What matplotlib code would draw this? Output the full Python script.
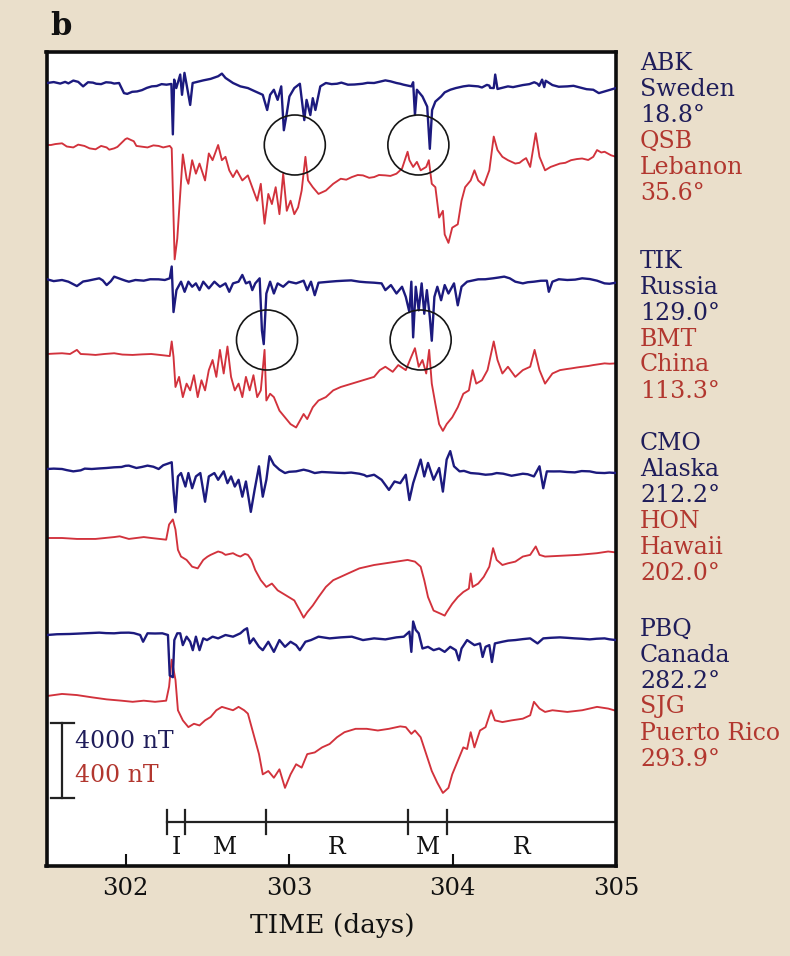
import matplotlib
matplotlib.use("Agg")
import matplotlib.pyplot as plt
from matplotlib.patches import Ellipse

plt.rcParams['font.family'] = ['DejaVu Serif']

# ---------------- data ----------------
# (time in days, field deviation in nT)
ABK = [(301.50, 0), (301.52, 0), (301.68, 130), (301.74, -180), (301.77, 40), (301.82, -40), (301.88, 40),
       (301.96, 0), (301.99, -540), (302.07, -450), (302.16, -180), (302.25, -90), (302.28, -50),
       (302.289, -2740), (302.297, 180), (302.31, -270), (302.334, 450), (302.345, -630), (302.36, 540),
       (302.375, -180), (302.395, -1170), (302.41, 0), (302.475, 140), (302.52, 220), (302.566, 360),
       (302.589, 500), (302.611, 270), (302.657, 0), (302.702, -180), (302.748, -270), (302.793, -450),
       (302.839, -630), (302.866, -1440), (302.884, -630), (302.907, -360), (302.93, -900), (302.952, -180),
       (302.968, -2520), (302.986, -1620), (303.002, -720), (303.032, -270), (303.066, -40), (303.093, -1980),
       (303.107, -900), (303.13, -1710), (303.145, -810), (303.161, -1440), (303.191, -180), (303.225, 0),
       (303.293, -40), (303.36, -90), (303.45, -40), (303.52, 0), (303.589, 140), (303.657, 0), (303.70, -90),
       (303.748, -180), (303.759, 40), (303.770, -1710), (303.782, -360), (303.816, -720), (303.845, -1260),
       (303.861, -3510), (303.875, -1440), (303.895, -990), (303.93, -720), (303.952, -500), (303.986, -360),
       (304.02, -270), (304.066, -180), (304.157, -180), (304.225, -140), (304.252, -270), (304.261, 450),
       (304.275, -320), (304.339, -180), (304.43, -110), (304.52, -40), (304.548, 180), (304.561, -220),
       (304.611, -110), (304.702, -180), (304.793, -270), (304.861, -360), (304.895, -540), (304.93, -450),
       (305.0, -270),
       (301.56, 50), (301.60, -30), (301.63, 60), (301.65, -20), (301.71, 60), (301.80, 20), (301.85, -60),
       (301.91, 20), (301.93, -30), (302.01, -580), (302.04, -470), (302.10, -380), (302.13, -260),
       (302.19, -160), (302.22, -60), (303.26, -60), (303.32, 20), (303.40, -80), (303.48, 10), (303.55, 60),
       (303.62, 90), (303.68, -40), (304.10, -140), (304.18, -240), (304.21, -100), (304.23, -260),
       (304.37, -220), (304.47, -60), (304.50, 40), (304.53, -150), (304.57, 120), (304.65, -200),
       (304.74, -150), (304.82, -330)]

QSB = [(301.50, 0), (301.543, 0), (301.611, 9), (301.68, -13), (301.748, -5), (301.816, -23), (301.884, -13),
       (301.93, -18), (301.998, 31), (302.032, 27), (302.066, -5), (302.134, -13), (302.202, -5), (302.27, -5),
       (302.282, -18), (302.30, -610), (302.316, -500), (302.35, -50), (302.373, -180), (302.384, -207),
       (302.407, -81), (302.43, -153), (302.452, -99), (302.486, -189), (302.509, -45), (302.532, -81),
       (302.566, 0), (302.589, -81), (302.611, -63), (302.634, -135), (302.657, -171), (302.68, -135),
       (302.714, -189), (302.748, -162), (302.782, -243), (302.805, -297), (302.827, -207), (302.85, -420),
       (302.873, -261), (302.895, -315), (302.918, -225), (302.941, -369), (302.964, -153), (302.986, -351),
       (303.009, -297), (303.032, -369), (303.055, -333), (303.077, -243), (303.10, -63), (303.116, -189),
       (303.145, -225), (303.18, -261), (303.225, -243), (303.27, -207), (303.316, -180), (303.384, -171),
       (303.452, -162), (303.52, -171), (303.589, -162), (303.657, -153), (303.691, -126), (303.725, -36),
       (303.736, -81), (303.759, -117), (303.782, -90), (303.805, -135), (303.839, -117), (303.855, -81),
       (303.873, -207), (303.895, -225), (303.918, -387), (303.941, -351), (303.952, -477), (303.975, -522),
       (303.998, -441), (304.032, -423), (304.055, -297), (304.077, -225), (304.111, -189), (304.134, -135),
       (304.157, -189), (304.191, -216), (304.225, -135), (304.252, 45), (304.275, -27), (304.305, -63),
       (304.339, -81), (304.384, -99), (304.43, -81), (304.475, -117), (304.509, 63), (304.532, -63),
       (304.566, -135), (304.60, -117), (304.657, -99), (304.725, -81), (304.793, -72), (304.861, -63),
       (304.884, -27), (304.93, -36), (305.0, -63),
       (301.57, 5), (301.64, -8), (301.71, 2), (301.78, -18), (301.85, -5), (301.90, -25), (301.95, -10),
       (302.01, 36), (302.05, 20), (302.10, -9), (302.17, -2), (302.23, -13), (303.35, -185), (303.42, -160),
       (303.49, -175), (303.55, -160), (303.62, -165), (304.41, -95), (304.45, -70), (304.69, -95),
       (304.76, -75), (304.83, -80), (304.91, -40), (304.97, -55)]

TIK = [(301.50, 0), (301.52, 36), (301.611, 0), (301.702, -324), (301.77, -36), (301.839, 90), (301.884, -270),
       (301.93, 180), (301.975, 36), (302.02, -90), (302.111, -36), (302.202, 36), (302.27, 90), (302.282, 720),
       (302.293, -1710), (302.311, -540), (302.339, -90), (302.361, -630), (302.384, -90), (302.407, -360),
       (302.43, -180), (302.452, -540), (302.475, -90), (302.509, -450), (302.543, -90), (302.577, -360),
       (302.611, -180), (302.634, -630), (302.657, -180), (302.691, -90), (302.714, 270), (302.736, -180),
       (302.759, -90), (302.775, -540), (302.793, -180), (302.82, 90), (302.834, -2700), (302.845, -3420),
       (302.861, -720), (302.884, -90), (302.907, -720), (302.93, -180), (302.964, -360), (302.998, -90),
       (303.043, -180), (303.089, -36), (303.111, -540), (303.134, -90), (303.157, -810), (303.18, -144),
       (303.248, -90), (303.339, -36), (303.43, -90), (303.52, -144), (303.566, -180), (303.589, -540),
       (303.623, -270), (303.657, -720), (303.691, -360), (303.714, -900), (303.736, -1710), (303.748, -90),
       (303.759, -3060), (303.775, -360), (303.793, -1620), (303.811, -180), (303.827, -1800), (303.843, -540),
       (303.861, -1980), (303.873, -3240), (303.889, -900), (303.907, -360), (303.93, -1080), (303.952, -270),
       (303.975, -720), (304.009, -180), (304.032, -1350), (304.055, -360), (304.089, -90), (304.157, 36),
       (304.248, 90), (304.316, 180), (304.384, -90), (304.43, -180), (304.498, -90), (304.577, -36),
       (304.589, -630), (304.611, -90), (304.702, 0), (304.793, 90), (304.884, -36), (304.93, -180),
       (305.0, -144),
       (301.56, -60), (301.65, -90), (301.74, -80), (301.80, 20), (301.86, -20), (301.91, -60), (302.00, -40),
       (302.06, 0), (302.15, 40), (302.24, 0), (303.29, -60), (303.38, -20), (303.47, -120), (304.20, 40),
       (304.28, 130), (304.35, 90), (304.46, -120), (304.54, -40), (304.65, 40), (304.75, 20), (304.84, 50),
       (304.96, -200)]

BMT = [(301.50, 0), (301.52, 0), (301.611, 4), (301.702, 22), (301.725, 0), (301.816, -5), (301.93, 4),
       (302.043, -5), (302.157, 0), (302.27, -11), (302.282, 67), (302.293, -14), (302.305, -176),
       (302.327, -122), (302.35, -230), (302.373, -158), (302.395, -194), (302.418, -113), (302.441, -230),
       (302.464, -140), (302.486, -194), (302.509, -86), (302.532, -32), (302.555, -122), (302.577, 22),
       (302.6, -104), (302.623, 40), (302.645, -122), (302.668, -194), (302.691, -158), (302.714, -230),
       (302.736, -122), (302.759, -194), (302.782, -113), (302.805, -230), (302.827, -194), (302.85, 22),
       (302.861, -248), (302.884, -212), (302.907, -230), (302.941, -302), (302.975, -338), (303.009, -374),
       (303.043, -392), (303.066, -356), (303.089, -320), (303.111, -347), (303.145, -284), (303.18, -248),
       (303.225, -230), (303.27, -194), (303.316, -176), (303.384, -158), (303.452, -140), (303.52, -122),
       (303.555, -86), (303.589, -68), (303.634, -95), (303.668, -59), (303.714, -86), (303.748, -14),
       (303.77, 31), (303.793, -68), (303.816, -32), (303.839, -104), (303.857, 22), (303.873, -158),
       (303.895, -266), (303.918, -374), (303.941, -410), (303.964, -374), (303.998, -338), (304.032, -284),
       (304.066, -212), (304.1, -194), (304.123, -86), (304.145, -158), (304.18, -140), (304.214, -86),
       (304.252, 67), (304.275, -32), (304.305, -104), (304.339, -68), (304.384, -122), (304.43, -86),
       (304.475, -68), (304.502, 22), (304.532, -86), (304.566, -158), (304.611, -104), (304.657, -86),
       (304.725, -77), (304.793, -68), (304.861, -59), (304.93, -50), (305.0, -50),
       (301.56, 2), (301.66, 0), (301.77, -2), (301.87, 0), (301.98, -3), (302.10, -2), (302.21, -5),
       (304.70, -80), (304.76, -72), (304.83, -64), (304.90, -54), (304.96, -52)]

CMO = [(301.50, 0), (301.52, 0), (301.611, 0), (301.68, -126), (301.725, -72), (301.793, 0), (301.884, 54),
       (301.975, 108), (302.02, 180), (302.066, 54), (302.134, 180), (302.202, 0), (302.259, 288),
       (302.282, 360), (302.293, -1116), (302.305, -2304), (302.32, -396), (302.339, -216), (302.366, -936),
       (302.384, -216), (302.407, -1026), (302.43, -396), (302.457, -216), (302.486, -1746), (302.509, -396),
       (302.543, -216), (302.566, -576), (302.6, -126), (302.623, -756), (302.645, -396), (302.668, -936),
       (302.691, -576), (302.714, -1476), (302.736, -666), (302.766, -2286), (302.789, -1116), (302.816, 144),
       (302.839, -1476), (302.861, -576), (302.88, 684), (302.907, 234), (302.941, -36), (302.975, -216),
       (303.043, -126), (303.089, -36), (303.157, -216), (303.248, -180), (303.339, -216), (303.43, -252),
       (303.475, -396), (303.52, -306), (303.566, -576), (303.611, -1116), (303.645, -666), (303.68, -756),
       (303.714, -306), (303.736, -1656), (303.759, -756), (303.782, -126), (303.805, 504), (303.827, -396),
       (303.85, 324), (303.884, -576), (303.918, 54), (303.941, -1206), (303.964, 504), (303.986, 954),
       (304.009, 144), (304.043, -126), (304.111, -216), (304.202, -306), (304.27, -216), (304.361, -360),
       (304.43, -252), (304.498, -396), (304.532, 144), (304.555, -1026), (304.577, -126), (304.657, -126),
       (304.748, -180), (304.839, -126), (304.93, -216), (305.0, -216),
       (301.56, 20), (301.64, -60), (301.75, 20), (301.84, 30), (301.93, 90), (302.00, 170), (302.10, 110),
       (302.17, 120), (302.23, 200), (303.00, -150), (303.12, -100), (303.20, -160), (303.29, -200),
       (303.38, -190), (303.46, -320), (304.07, -100), (304.16, -250), (304.24, -280), (304.31, -250),
       (304.40, -300), (304.46, -280), (304.62, -130), (304.70, -160), (304.79, -110), (304.88, -200),
       (304.96, -190)]

HON = [(301.50, 0), (301.52, 0), (301.611, 0), (301.702, -5), (301.816, -5), (301.93, 5), (301.964, 9),
       (302.02, -5), (302.111, 5), (302.157, 0), (302.248, -9), (302.266, 72), (302.289, 99), (302.305, 45),
       (302.32, -63), (302.339, -99), (302.373, -117), (302.407, -153), (302.441, -162), (302.475, -117),
       (302.52, -90), (302.566, -72), (302.611, -90), (302.657, -81), (302.702, -99), (302.748, -90),
       (302.77, -117), (302.793, -171), (302.827, -225), (302.861, -261), (302.895, -243), (302.93, -279),
       (302.964, -297), (302.998, -315), (303.032, -333), (303.066, -387), (303.089, -425), (303.111, -396),
       (303.145, -360), (303.18, -315), (303.225, -261), (303.27, -225), (303.316, -207), (303.361, -189),
       (303.43, -162), (303.475, -153), (303.52, -144), (303.589, -135), (303.657, -126), (303.725, -117),
       (303.77, -126), (303.805, -153), (303.827, -225), (303.85, -315), (303.884, -387), (303.93, -405),
       (303.952, -414), (303.964, -396), (303.998, -351), (304.032, -315), (304.066, -288), (304.1, -270),
       (304.111, -189), (304.123, -261), (304.157, -243), (304.191, -207), (304.225, -153), (304.248, -54),
       (304.27, -117), (304.305, -144), (304.339, -135), (304.384, -126), (304.43, -99), (304.475, -90),
       (304.509, -45), (304.532, -90), (304.566, -99), (304.657, -95), (304.77, -90), (304.884, -81),
       (304.952, -72), (305.0, -77),
       (302.50, -100), (302.59, -78), (302.68, -92), (302.73, -85)]

PBQ = [(301.50, 0), (301.52, 0), (301.657, 54), (301.748, 90), (301.839, 126), (301.93, 90), (302.02, 126),
       (302.089, 0), (302.107, -360), (302.134, 90), (302.225, 90), (302.259, 0), (302.27, -2160),
       (302.289, -2250), (302.298, -270), (302.316, 90), (302.334, 90), (302.35, -540), (302.373, -90),
       (302.395, -360), (302.411, -810), (302.43, -90), (302.452, -810), (302.475, -180), (302.498, -270),
       (302.532, -90), (302.566, -180), (302.611, 0), (302.657, -90), (302.702, 90), (302.725, 270),
       (302.743, 360), (302.759, -450), (302.782, -180), (302.816, -630), (302.839, -810), (302.873, -360),
       (302.907, -900), (302.941, -270), (302.975, -630), (303.009, -360), (303.043, -540), (303.066, -810),
       (303.1, -360), (303.134, -270), (303.18, -90), (303.248, -180), (303.316, -126), (303.384, -90),
       (303.452, -270), (303.52, -180), (303.589, -234), (303.657, -126), (303.702, -90), (303.736, 180),
       (303.748, -900), (303.759, 720), (303.775, 270), (303.793, 90), (303.816, -720), (303.85, -630),
       (303.884, -810), (303.918, -720), (303.952, -900), (303.986, -630), (304.02, -810), (304.039, -1350),
       (304.055, -720), (304.089, -270), (304.134, -540), (304.168, -450), (304.184, -1170), (304.202, -630),
       (304.225, -540), (304.241, -1440), (304.259, -450), (304.305, -360), (304.384, -270), (304.475, -180),
       (304.52, -450), (304.555, -180), (304.657, -126), (304.748, -180), (304.839, -234), (304.93, -180),
       (305.0, -270),
       (301.58, 40), (301.70, 70), (301.80, 110), (301.88, 100), (301.97, 120), (302.05, 100), (302.18, 80),
       (304.34, -300), (304.43, -220), (304.60, -150), (304.70, -150), (304.79, -200), (304.88, -200),
       (304.96, -230)]

SJG = [(301.50, 0), (301.52, 0), (301.611, 11), (301.702, 5), (301.793, -7), (301.884, -18), (301.975, -25),
       (302.043, -31), (302.111, -25), (302.18, -31), (302.248, -25), (302.266, 50), (302.282, 194),
       (302.305, 86), (302.32, -76), (302.35, -130), (302.384, -166), (302.418, -148), (302.452, -157),
       (302.486, -130), (302.52, -112), (302.555, -76), (302.589, -58), (302.623, -67), (302.657, -76),
       (302.691, -58), (302.725, -76), (302.748, -94), (302.782, -202), (302.816, -310), (302.839, -418),
       (302.873, -400), (302.907, -436), (302.941, -391), (302.975, -490), (303.009, -418), (303.043, -364),
       (303.077, -382), (303.111, -310), (303.157, -301), (303.202, -274), (303.248, -256), (303.293, -220),
       (303.339, -193), (303.407, -175), (303.475, -175), (303.543, -184), (303.611, -175), (303.68, -162),
       (303.714, -166), (303.748, -202), (303.77, -184), (303.805, -220), (303.839, -310), (303.873, -400),
       (303.907, -463), (303.941, -517), (303.975, -490), (303.998, -418), (304.032, -346), (304.066, -274),
       (304.089, -283), (304.111, -193), (304.134, -274), (304.168, -184), (304.202, -166), (304.236, -76),
       (304.259, -130), (304.305, -139), (304.361, -130), (304.43, -121), (304.475, -103), (304.498, -31),
       (304.532, -67), (304.566, -85), (304.611, -76), (304.702, -85), (304.793, -76), (304.884, -58),
       (304.952, -67), (305.0, -79)]

STATIONS = ['ABK', 'QSB', 'TIK', 'BMT', 'CMO', 'HON', 'PBQ', 'SJG']
PLACES = ['Sweden', 'Lebanon', 'Russia', 'China', 'Alaska', 'Hawaii', 'Canada', 'Puerto Rico']
LONGITUDES = ['18.8°', '35.6°', '129.0°', '113.3°', '212.2°', '202.0°', '282.2°', '293.9°']
SERIES = [ABK, QSB, TIK, BMT, CMO, HON, PBQ, SJG]
IS_HIGH_LAT = [True, False, True, False, True, False, True, False]

PHASE_EDGES = [302.253, 302.361, 302.859, 303.726, 303.965, 305.0]
PHASE_LABELS = ['I', 'M', 'R', 'M', 'R']
PHASE_LABEL_T = [302.31, 302.61, 303.29, 303.85, 304.42]

CIRCLE_T = [303.035, 303.791, 302.865, 303.805]
CIRCLE_PAIR = [0, 0, 1, 1]

XTICKS = [302, 303, 304, 305]
XTICK_LABELS = ['302', '303', '304', '305']

# ---------------- layout / style ----------------
W, H, DPI = 790, 956, 100
BG = '#eadfcb'
BLUE = '#1c1a7e'
RED = '#d2323c'
BLUE_TXT = '#1f1d5a'
RED_TXT = '#b2372f'
BLUE_NT_PER_UNIT = 4000 / 75.0
RED_NT_PER_UNIT = 400 / 75.0
ROWS = [83, 145, 280, 354, 469, 538, 635, 696]   # baseline row of each trace
PAIR_ROW = [145, 340]

fig = plt.figure(figsize=(W / DPI, H / DPI), dpi=DPI, facecolor=BG)
ax_l, ax_r, ax_t, ax_b = 46.5, 616, 52, 866
ax = fig.add_axes([ax_l / W, 1 - ax_b / H, (ax_r - ax_l) / W, (ax_b - ax_t) / H])
ax.set_facecolor('white')
ax.set_xlim(301.516, 305.0)
ax.set_ylim(ax_b, ax_t)

# traces: red first, blue on top
order = [1, 3, 5, 7, 0, 2, 4, 6]
for i in order:
    s = sorted(SERIES[i])
    t = [p[0] for p in s]
    v = [p[1] for p in s]
    if IS_HIGH_LAT[i]:
        y = [ROWS[i] - val / BLUE_NT_PER_UNIT for val in v]
        ax.plot(t, y, color=BLUE, lw=1.7, solid_joinstyle='round', zorder=3)
    else:
        y = [ROWS[i] - val / RED_NT_PER_UNIT for val in v]
        ax.plot(t, y, color=RED, lw=1.35, solid_joinstyle='round', zorder=2)

# circles
for tc, pr in zip(CIRCLE_T, CIRCLE_PAIR):
    ax.add_patch(Ellipse((tc, PAIR_ROW[pr]), width=61 / 163.4, height=60,
                         fill=False, ec='#151515', lw=1.2, zorder=4))

# scale bar
sb_t, sb_top = 301.611, 723
sb_len = 4000 / BLUE_NT_PER_UNIT
ax.plot([sb_t, sb_t], [sb_top, sb_top + sb_len], color='#222', lw=1.6)
for yy in (sb_top, sb_top + sb_len):
    ax.plot([sb_t - 0.07, sb_t + 0.075], [yy, yy], color='#222', lw=1.6)
ax.text(301.69, 742, '4000 nT', color=BLUE_TXT, fontsize=17, va='center', ha='left')
ax.text(301.69, 775, '400 nT', color=RED_TXT, fontsize=17, va='center', ha='left')

# storm phase bar
bar_y = 822
ax.plot([PHASE_EDGES[0], PHASE_EDGES[-1]], [bar_y, bar_y], color='#222', lw=1.6, clip_on=False)
for e in PHASE_EDGES[:-1]:
    ax.plot([e, e], [bar_y - 12, bar_y + 12], color='#222', lw=1.6)
for lab, tl in zip(PHASE_LABELS, PHASE_LABEL_T):
    ax.text(tl, 847, lab, fontsize=17, ha='center', va='center', color='#111')

# axes styling
for sp in ax.spines.values():
    sp.set_linewidth(2.6)
    sp.set_color('#0d0d0d')
ax.set_yticks([])
ax.set_xticks(XTICKS)
ax.set_xticklabels(XTICK_LABELS)
ax.tick_params(axis='x', direction='in', length=9, width=1.5, pad=8, labelsize=17.5, colors='#111')
ax.set_xlabel('TIME (days)', fontsize=19, color='#111')
ax.xaxis.set_label_coords(0.501, -0.058)

# panel letter
fig.text(50 / W, 1 - 11 / H, 'b', fontsize=22, fontweight='bold', va='top', ha='left', color='#111')

# station labels
label_x = 640 / W
starts = [63, 261, 444, 629]
for k in range(4):
    hi, lo = 2 * k, 2 * k + 1
    lines = [(STATIONS[hi], BLUE_TXT), (PLACES[hi], BLUE_TXT), (LONGITUDES[hi], BLUE_TXT),
             (STATIONS[lo], RED_TXT), (PLACES[lo], RED_TXT), (LONGITUDES[lo], RED_TXT)]
    for j, (txt, col) in enumerate(lines):
        fig.text(label_x, 1 - (starts[k] + 26 * j) / H, txt, color=col, fontsize=17,
                 va='center', ha='left')

fig.savefig('out.png', dpi=DPI, facecolor=BG)
